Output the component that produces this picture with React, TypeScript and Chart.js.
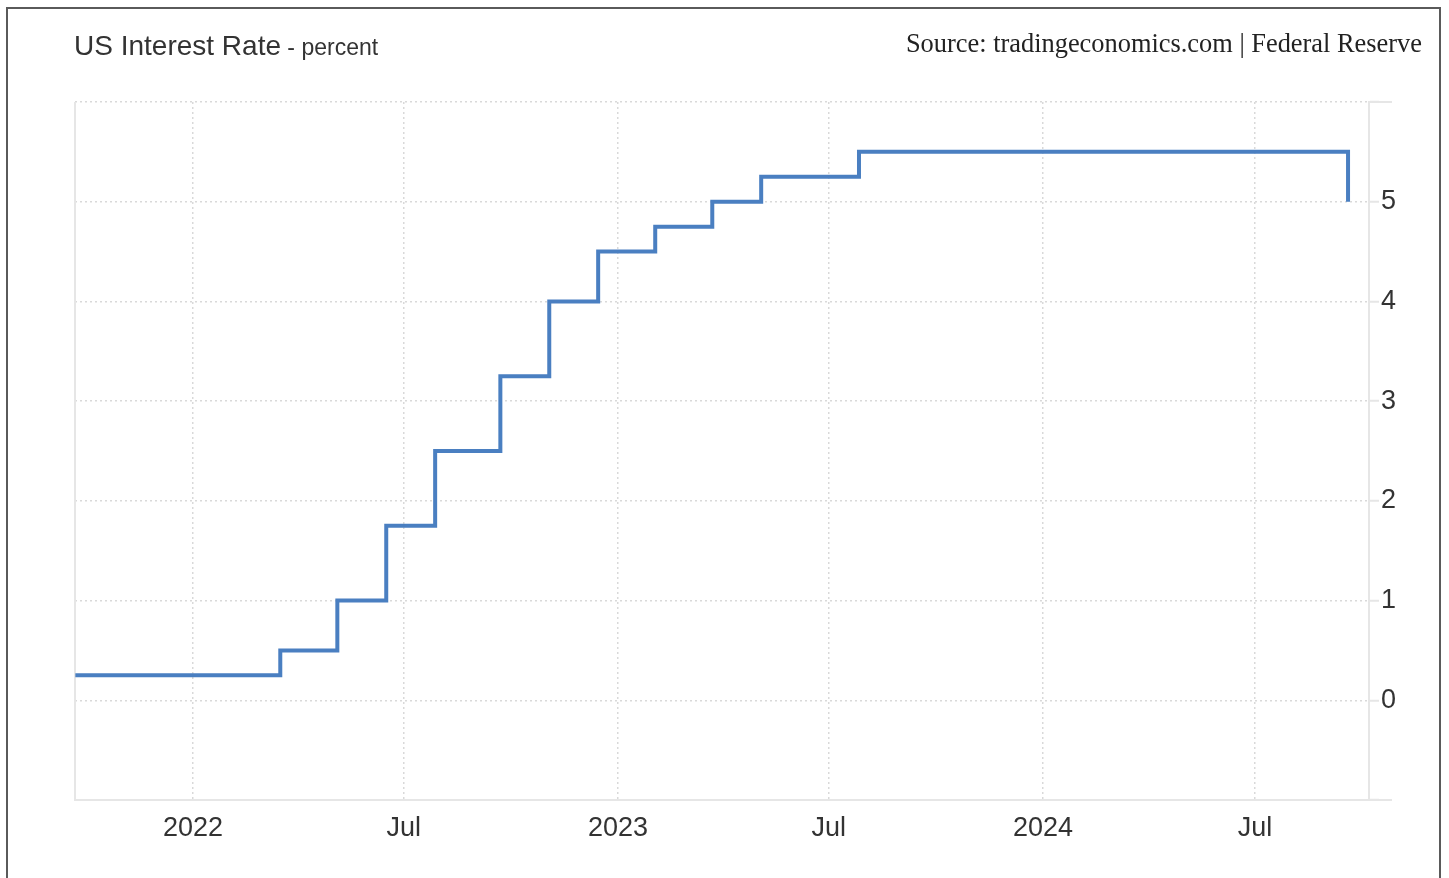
import React, { useEffect, useRef } from "react";
import { Chart, registerables } from "chart.js";

Chart.register(...registerables);

const DAY = 86400000;
const day = (s: string) => Date.parse(s + "T00:00:00Z") / DAY;

// Fed funds target (upper bound) step changes: date of change, new rate
const changeDates: string[] = [
  "2021-09-22",
  "2022-03-17",
  "2022-05-05",
  "2022-06-16",
  "2022-07-28",
  "2022-09-22",
  "2022-11-03",
  "2022-12-15",
  "2023-02-02",
  "2023-03-23",
  "2023-05-04",
  "2023-07-27",
  "2024-09-19",
];
const rates: number[] = [0.25, 0.5, 1.0, 1.75, 2.5, 3.25, 4.0, 4.5, 4.75, 5.0, 5.25, 5.5, 5.0];

const xTickDates: string[] = ["2022-01-01", "2022-07-01", "2023-01-01", "2023-07-01", "2024-01-01", "2024-07-01"];
const xTickLabels: string[] = ["2022", "Jul", "2023", "Jul", "2024", "Jul"];
const yTickLabels: number[] = [0, 1, 2, 3, 4, 5];

const X_MIN = day("2022-01-01") - 101.3;
const X_MAX = day("2022-01-01") + 1010;
const Y_MIN = -1;
const Y_MAX = 6;

const GRID = "#d9d9d9";
const AXIS = "#e6e6e6";
const TEXT = "#333333";
const SANS = "'Liberation Sans', Arial, Helvetica, sans-serif";

export default function App() {
  const ref = useRef<HTMLCanvasElement | null>(null);

  useEffect(() => {
    if (!ref.current) return;
    const points = changeDates.map((d, i) => ({ x: day(d), y: rates[i] }));
    const tickVals = xTickDates.map(day);

    const framePlugin = {
      id: "frame",
      beforeDatasetsDraw(chart: any) {
        const { ctx, chartArea } = chart;
        ctx.save();
        ctx.setLineDash([]);
        ctx.strokeStyle = AXIS;
        ctx.lineWidth = 2;
        ctx.beginPath();
        ctx.moveTo(chartArea.left, chartArea.top);
        ctx.lineTo(chartArea.left, chartArea.bottom);
        ctx.moveTo(chartArea.right, chartArea.top);
        ctx.lineTo(chartArea.right + 23, chartArea.top);
        ctx.moveTo(chartArea.right, chartArea.bottom);
        ctx.lineTo(chartArea.right + 23, chartArea.bottom);
        ctx.stroke();
        ctx.restore();
      },
    };

    const chart = new Chart(ref.current, {
      type: "line",
      data: {
        datasets: [
          {
            label: "US Interest Rate",
            data: points,
            borderColor: "#4a7fc1",
            borderWidth: 4,
            pointRadius: 0,
            stepped: "before",
            fill: false,
            borderJoinStyle: "miter",
          },
        ],
      },
      options: {
        animation: false,
        responsive: true,
        maintainAspectRatio: false,
        layout: { padding: { left: 75, top: 102, right: 0, bottom: 0 } },
        plugins: { legend: { display: false }, tooltip: { enabled: false } },
        scales: {
          x: {
            type: "linear",
            min: X_MIN,
            max: X_MAX,
            afterBuildTicks: (scale: any) => {
              scale.ticks = tickVals.map((v) => ({ value: v }));
            },
            afterFit: (scale: any) => {
              scale.height = 78;
            },
            ticks: {
              autoSkip: false,
              maxRotation: 0,
              padding: 12,
              color: TEXT,
              font: { family: SANS, size: 27 },
              callback: (_v: any, i: number) => xTickLabels[i],
            },
            grid: {
              color: GRID,
              lineWidth: 1.5,
              drawTicks: false,
            },
            border: { display: true, color: AXIS, width: 2, dash: [2, 3] },
          },
          y: {
            type: "linear",
            position: "right",
            min: Y_MIN,
            max: Y_MAX,
            afterFit: (scale: any) => {
              scale.width = 80;
            },
            ticks: {
              stepSize: 1,
              padding: 2,
              color: TEXT,
              font: { family: SANS, size: 27 },
              callback: (v: any) => (yTickLabels.includes(v) ? String(v) : ""),
            },
            grid: {
              color: GRID,
              lineWidth: 1.5,
              tickLength: 10,
              tickColor: AXIS,
              tickWidth: 2,
              tickBorderDash: [],
            },
            border: { display: true, color: AXIS, width: 2, dash: [2, 3] },
          },
        },
      },
      plugins: [framePlugin],
    } as any);
    return () => chart.destroy();
  }, []);

  return (
    <div style={{ position: "absolute", left: 0, top: 0, width: 1449, height: 878, overflow: "hidden", background: "#fff" }}>
      <div
        style={{
          position: "absolute",
          left: 6,
          top: 7,
          width: 1435,
          height: 900,
          border: "2px solid #5a5a5a",
          boxSizing: "border-box",
        }}
      />
      <div style={{ position: "absolute", left: 0, top: 0, width: 1449, height: 878 }}>
        <canvas ref={ref} />
      </div>
      <div
        style={{
          position: "absolute",
          left: 74,
          top: 30,
          color: TEXT,
          fontFamily: SANS,
          whiteSpace: "nowrap",
        }}
      >
        <span style={{ fontSize: 28 }}>US Interest Rate</span>
        <span style={{ fontSize: 23 }}> - percent</span>
      </div>
      <div
        style={{
          position: "absolute",
          right: 27,
          top: 28,
          color: "#222",
          fontFamily: "'Liberation Serif', 'DejaVu Serif', serif",
          fontSize: 26.4,
          whiteSpace: "nowrap",
        }}
      >
        Source: tradingeconomics.com | Federal Reserve
      </div>
    </div>
  );
}
